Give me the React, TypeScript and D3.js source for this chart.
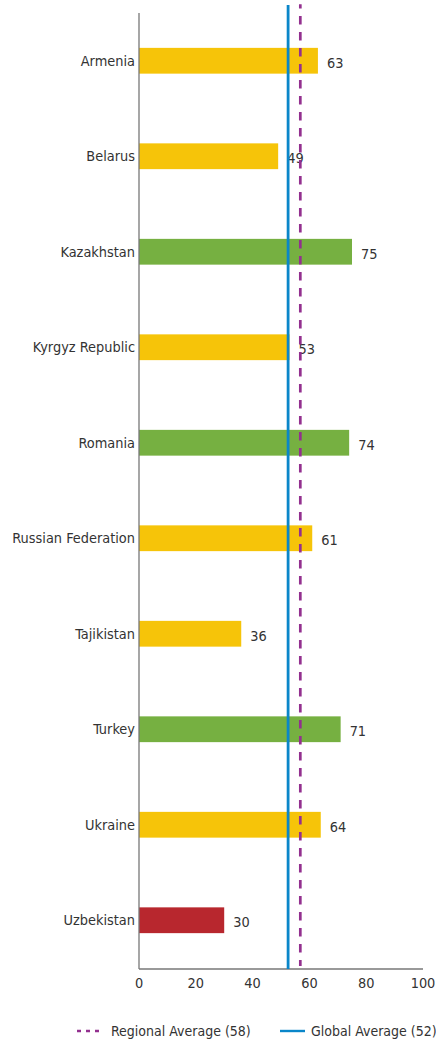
import React from 'react'
import * as d3 from 'd3'

const countries = [
  'Armenia',
  'Belarus',
  'Kazakhstan',
  'Kyrgyz Republic',
  'Romania',
  'Russian Federation',
  'Tajikistan',
  'Turkey',
  'Ukraine',
  'Uzbekistan',
]
const scores = [63, 49, 75, 53, 74, 61, 36, 71, 64, 30]
const ratings = ['mid', 'mid', 'high', 'mid', 'high', 'mid', 'mid', 'high', 'mid', 'low']
const xTicks = [0, 20, 40, 60, 80, 100]
const globalAverage = 52
const regionalAverage = 58
// where the lines sit in the picture
const globalLineAt = 52.5
const regionalLineAt = 56.8

const W = 436
const H = 1040
const FONT = "'Liberation Sans Narrow', 'DejaVu Sans Condensed', sans-serif"
const TEXT = '#333'
const FS = 14.4

const colors = { high: '#76b041', mid: '#f6c409', low: '#b8272e' }

const App = () => {
  const left = 139
  const right = 423
  const top = 13
  const bottom = 968

  const x = d3.scaleLinear().domain([0, 100]).range([left, right])
  const y = d3.scaleBand().domain(countries).range([top, bottom]).paddingInner(0.73).paddingOuter(0.365)

  return (
    <svg width={W} height={H} style={{ position: 'absolute', left: 0, top: 0 }} fontFamily={FONT}>
      <rect width={W} height={H} fill="#fff" />

      {countries.map((c, i) => (
        <g key={c}>
          <rect
            x={x(0)}
            y={y(c)}
            width={x(scores[i]) - x(0)}
            height={y.bandwidth()}
            fill={colors[ratings[i]]}
          />
          <text
            x={left - 4}
            y={y(c)! + y.bandwidth() / 2}
            dy="0.35em"
            textAnchor="end"
            fontSize={FS}
            fill={TEXT}
          >
            {c}
          </text>
          <text
            x={x(scores[i]) + 9}
            y={y(c)! + y.bandwidth() / 2 + 2}
            dy="0.35em"
            fontSize={FS}
            fill={TEXT}
          >
            {scores[i]}
          </text>
        </g>
      ))}

      {/* axes */}
      <line x1={left} x2={left} y1={top} y2={bottom + 1} stroke="#777" strokeWidth={1.3} />
      <line x1={left} x2={right} y1={bottom + 1} y2={bottom + 1} stroke="#777" strokeWidth={1.3} />
      {xTicks.map((t) => (
        <text key={t} x={x(t)} y={983} dy="0.35em" textAnchor="middle" fontSize={FS} fill={TEXT}>
          {t}
        </text>
      ))}

      {/* averages */}
      <line
        x1={x(globalLineAt)}
        x2={x(globalLineAt)}
        y1={5}
        y2={bottom + 1}
        stroke="#0a86c9"
        strokeWidth={2.8}
      />
      <line
        x1={x(regionalLineAt)}
        x2={x(regionalLineAt)}
        y1={4.3}
        y2={bottom - 2}
        stroke="#93308f"
        strokeWidth={2.7}
        strokeDasharray="8.5 7.5"
        strokeDashoffset={4.3}
      />

      {/* legend */}
      <line x1={77} x2={103} y1={1031} y2={1031} stroke="#93308f" strokeWidth={2.4} strokeDasharray="4 5" />
      <text x={111} y={1031} dy="0.35em" fontSize={14} fill={TEXT}>
        {`Regional Average (${regionalAverage})`}
      </text>
      <line x1={280} x2={305} y1={1031} y2={1031} stroke="#0a86c9" strokeWidth={2.4} />
      <text x={311} y={1031} dy="0.35em" fontSize={14} fill={TEXT}>
        {`Global Average (${globalAverage})`}
      </text>
    </svg>
  )
}

export default App
